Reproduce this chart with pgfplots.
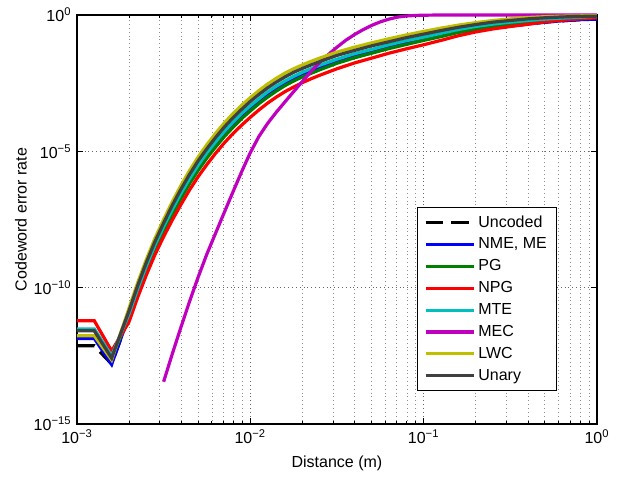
\documentclass[border=0pt]{standalone}
\usepackage{fontspec}
\setmainfont{Liberation Sans}
\usepackage{pgfplots}
\usepackage{pgfplotstable}
\pgfplotsset{compat=1.18}

\definecolor{mblue}{rgb}{0,0,1}
\definecolor{mgreen}{rgb}{0,0.5,0}
\definecolor{mred}{rgb}{1,0,0}
\definecolor{mcyan}{rgb}{0,0.75,0.75}
\definecolor{mmag}{rgb}{0.75,0,0.75}
\definecolor{myel}{rgb}{0.75,0.75,0}
\definecolor{mgray}{rgb}{0.25,0.25,0.25}

% log10 of distance and log10 of codeword error rate
\pgfplotstableread{
lx    Y      U      C      G      B      R      K
-3.0  -11.76 -11.58 -11.51 -11.55 -11.86 -11.21 -12.13
-2.9  -11.76 -11.58 -11.51 -11.55 -11.86 -11.21 -12.13
-2.8  -12.65 -12.58 -12.50 -12.55 -12.81 -12.32 -12.80
-2.70 -10.76 -10.86 -10.97 -11.10 -11.04 -11.26 -11.04
-2.65 -9.82  -9.93  -10.05 -10.19 -10.12 -10.36 -10.12
-2.60 -8.97  -9.08  -9.21  -9.36  -9.28  -9.54  -9.28
-2.55 -8.19  -8.31  -8.44  -8.60  -8.52  -8.79  -8.52
-2.50 -7.50  -7.63  -7.76  -7.93  -7.85  -8.13  -7.85
-2.45 -6.85  -6.98  -7.13  -7.31  -7.22  -7.52  -7.22
-2.40 -6.25  -6.39  -6.54  -6.73  -6.64  -6.95  -6.64
-2.35 -5.70  -5.84  -6.00  -6.18  -6.09  -6.41  -6.09
-2.30 -5.20  -5.34  -5.50  -5.69  -5.60  -5.92  -5.60
-2.25 -4.75  -4.90  -5.05  -5.24  -5.15  -5.48  -5.15
-2.20 -4.34  -4.49  -4.65  -4.84  -4.74  -5.07  -4.74
-2.15 -3.96  -4.11  -4.27  -4.46  -4.36  -4.69  -4.36
-2.10 -3.62  -3.77  -3.93  -4.12  -4.02  -4.35  -4.02
-2.05 -3.31  -3.46  -3.61  -3.80  -3.71  -4.04  -3.71
-2.00 -3.03  -3.17  -3.33  -3.52  -3.43  -3.75  -3.43
-1.95 -2.77  -2.91  -3.07  -3.25  -3.16  -3.48  -3.16
-1.90 -2.53  -2.67  -2.82  -3.01  -2.92  -3.23  -2.92
-1.85 -2.32  -2.46  -2.61  -2.79  -2.70  -3.01  -2.70
-1.80 -2.13  -2.27  -2.42  -2.59  -2.50  -2.81  -2.50
-1.75 -1.97  -2.10  -2.25  -2.42  -2.34  -2.64  -2.34
-1.70 -1.83  -1.96  -2.10  -2.27  -2.19  -2.48  -2.19
-1.65 -1.70  -1.83  -1.97  -2.14  -2.05  -2.34  -2.05
-1.60 -1.58  -1.71  -1.84  -2.01  -1.93  -2.21  -1.93
-1.5  -1.36  -1.48  -1.62  -1.77  -1.70  -1.97  -1.70
-1.4  -1.18  -1.30  -1.42  -1.57  -1.50  -1.76  -1.50
-1.3  -1.02  -1.13  -1.26  -1.40  -1.33  -1.58  -1.33
-1.2  -0.87  -0.98  -1.09  -1.23  -1.16  -1.40  -1.16
-1.1  -0.73  -0.83  -0.94  -1.08  -1.01  -1.24  -1.01
-1.0  -0.60  -0.70  -0.81  -0.93  -0.87  -1.09  -0.87
-0.9  -0.48  -0.57  -0.67  -0.79  -0.73  -0.93  -0.73
-0.8  -0.37  -0.45  -0.53  -0.64  -0.62  -0.76  -0.62
-0.7  -0.28  -0.35  -0.42  -0.51  -0.55  -0.62  -0.55
-0.6  -0.20  -0.26  -0.33  -0.41  -0.47  -0.51  -0.47
-0.5  -0.14  -0.20  -0.26  -0.33  -0.40  -0.42  -0.40
-0.4  -0.09  -0.14  -0.20  -0.27  -0.33  -0.34  -0.33
-0.3  -0.06  -0.10  -0.15  -0.21  -0.26  -0.25  -0.26
-0.2  -0.04  -0.07  -0.11  -0.16  -0.21  -0.19  -0.21
-0.1  -0.03  -0.05  -0.08  -0.11  -0.17  -0.14  -0.17
0.0   -0.02  -0.04  -0.05  -0.07  -0.15  -0.10  -0.15
}\curves

\pgfplotstableread{
lx    M
-2.50 -13.45
-2.45 -12.43
-2.40 -11.45
-2.35 -10.50
-2.30 -9.60
-2.25 -8.76
-2.20 -8.00
-2.15 -7.24
-2.10 -6.49
-2.05 -5.75
-2.00 -5.05
-1.95 -4.45
-1.90 -3.975
-1.85 -3.565
-1.80 -3.185
-1.75 -2.81
-1.70 -2.44
-1.65 -2.07
-1.60 -1.74
-1.55 -1.45
-1.50 -1.18
-1.45 -0.93
-1.40 -0.72
-1.35 -0.54
-1.30 -0.38
-1.25 -0.25
-1.20 -0.15
-1.15 -0.075
-1.10 -0.035
-1.05 -0.015
-1.00 -0.006
-0.95 -0.002
-0.90 -0.001
-0.8  0
-0.7  0
-0.6  0
-0.5  0
-0.4  0
-0.3  0
-0.2  0
-0.1  0
0.0   0
}\mec

\begin{document}
\begin{tikzpicture}
\begin{axis}[
  scale only axis,
  width=325pt, height=255.6pt,
  xmode=log, ymode=log,
  xmin=1e-3, xmax=1, ymin=1e-15, ymax=1,
  xtick={1e-3,1e-2,1e-1,1},
  xticklabels={10\textsuperscript{−3},10\textsuperscript{−2},10\textsuperscript{−1},10\textsuperscript{0}},
  minor xtick={2e-3,3e-3,4e-3,5e-3,6e-3,7e-3,8e-3,9e-3,2e-2,3e-2,4e-2,5e-2,6e-2,7e-2,8e-2,9e-2,0.2,0.3,0.4,0.5,0.6,0.7,0.8,0.9},
  ytick={1e-15,1e-10,1e-5,1},
  yticklabels={10\textsuperscript{−15},10\textsuperscript{−10},10\textsuperscript{−5},10\textsuperscript{0}},
  yminorticks=false,
  xmajorgrids, xminorgrids, ymajorgrids,
  major grid style={dotted, black!60},
  minor grid style={dotted, black!45},
  major tick length=3.5pt, minor tick length=2pt,
  tick style={black, line width=0.5pt},
  axis line style={line width=0.8pt},
  tick label style={font=\normalsize},
  xlabel={Distance (m)},
  ylabel={Codeword error rate},
  xlabel style={at={(axis description cs:0.5,-0.0955)}, anchor=center},
  ylabel style={at={(axis description cs:-0.1077,0.5)}, anchor=center},
  clip=false,
  legend style={at={(0.923,0.081)}, anchor=south east, draw=black, line width=0.6pt,
    font=\normalsize, row sep=1.2pt, inner xsep=4pt, inner ysep=3pt},
  legend cell align=left,
  legend image code/.code={\draw[#1] (0pt,0pt) -- (30pt,0pt);},
  every axis plot/.append style={line width=2pt},
]
\addplot[black, dash pattern=on 11pt off 5pt] table[x expr=10^(\thisrow{lx}), y expr=10^(\thisrow{K})] {\curves};
\addlegendentry{Uncoded}
\addplot[mblue] table[x expr=10^(\thisrow{lx}), y expr=10^(\thisrow{B})] {\curves};
\addlegendentry{NME, ME}
\addplot[mgreen] table[x expr=10^(\thisrow{lx}), y expr=10^(\thisrow{G})] {\curves};
\addlegendentry{PG}
\addplot[mred] table[x expr=10^(\thisrow{lx}), y expr=10^(\thisrow{R})] {\curves};
\addlegendentry{NPG}
\addplot[mcyan] table[x expr=10^(\thisrow{lx}), y expr=10^(\thisrow{C})] {\curves};
\addlegendentry{MTE}
\addplot[mmag] table[x expr=10^(\thisrow{lx}), y expr=10^(\thisrow{M})] {\mec};
\addlegendentry{MEC}
\addplot[myel] table[x expr=10^(\thisrow{lx}), y expr=10^(\thisrow{Y})] {\curves};
\addlegendentry{LWC}
\addplot[mgray] table[x expr=10^(\thisrow{lx}), y expr=10^(\thisrow{U})] {\curves};
\addlegendentry{Unary}
\end{axis}
\pgfresetboundingbox
\path ([shift={(-48.1pt,-34.4pt)}]current axis.south west) rectangle ([shift={(19.4pt,9.4pt)}]current axis.north east);
\end{tikzpicture}
\end{document}
